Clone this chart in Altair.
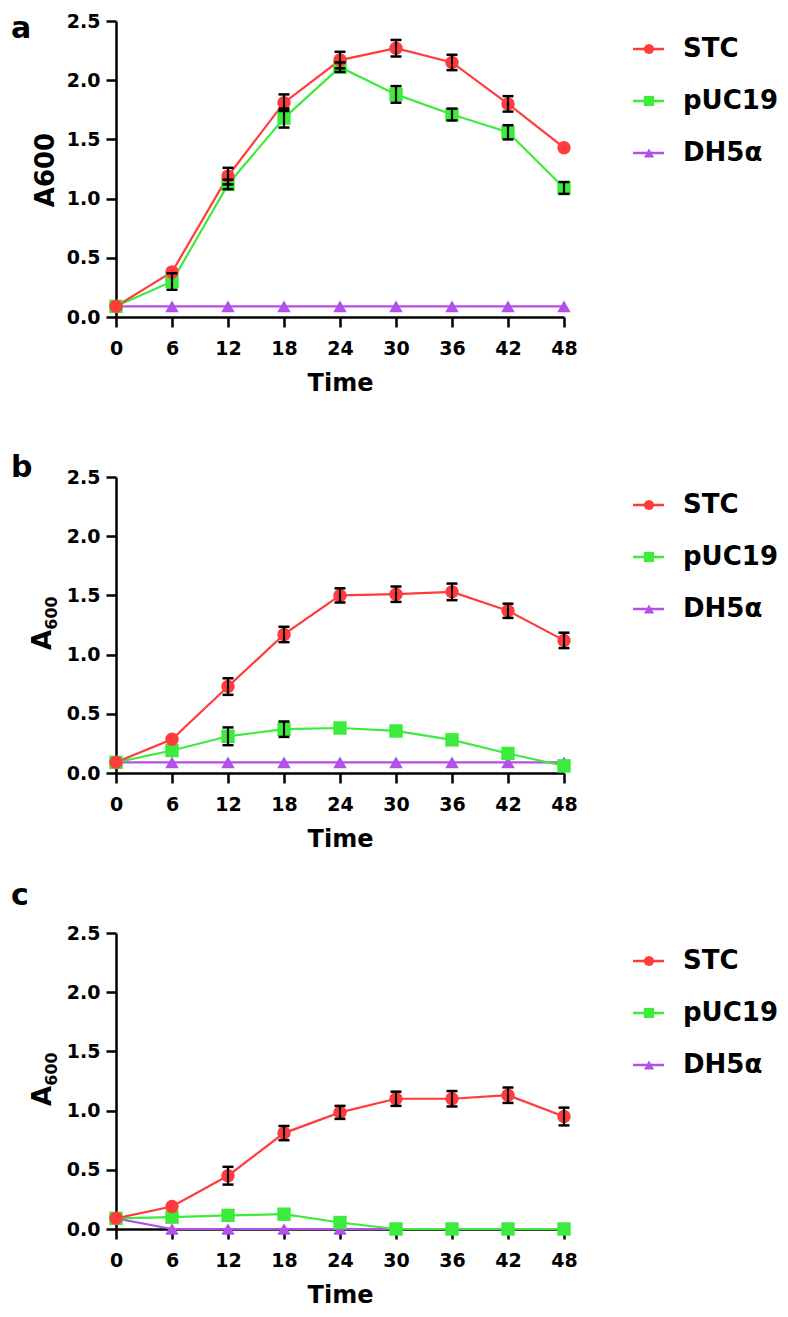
import altair as alt
import pandas as pd

# ---------------- data ----------------
times = [0, 6, 12, 18, 24, 30, 36, 42, 48]
series = ["STC", "pUC19", "DH5α"]
colors = ["#FF3B3B", "#3CEB3C", "#B44FE8"]
shapes = ["circle", "square", "triangle-up"]
y_ticks = [0.0, 0.5, 1.0, 1.5, 2.0, 2.5]
panel_labels = ["a", "b", "c"]
x_title = "Time"
y_title_a = "A600"
y_title_main = "A"
y_title_sub = "600"

# panel a
a_stc = [0.09, 0.38, 1.19, 1.81, 2.17, 2.27, 2.15, 1.80, 1.43]
a_stc_err = [0.0, 0.0, 0.07, 0.07, 0.07, 0.07, 0.065, 0.065, 0.0]
a_puc = [0.09, 0.30, 1.12, 1.68, 2.11, 1.88, 1.71, 1.56, 1.09]
a_puc_err = [0.0, 0.07, 0.04, 0.08, 0.04, 0.07, 0.05, 0.06, 0.05]
a_dh = [0.09, 0.09, 0.09, 0.09, 0.09, 0.09, 0.09, 0.09, 0.09]
a_dh_err = [0, 0, 0, 0, 0, 0, 0, 0, 0]

# panel b
b_stc = [0.09, 0.285, 0.73, 1.17, 1.50, 1.51, 1.53, 1.37, 1.12]
b_stc_err = [0.0, 0.0, 0.07, 0.065, 0.06, 0.065, 0.07, 0.06, 0.065]
b_puc = [0.09, 0.19, 0.31, 0.37, 0.38, 0.355, 0.28, 0.165, 0.06]
b_puc_err = [0.0, 0.0, 0.075, 0.065, 0.0, 0.0, 0.0, 0.0, 0.0]
b_dh = [0.09, 0.09, 0.09, 0.09, 0.09, 0.09, 0.09, 0.09, 0.09]
b_dh_err = [0, 0, 0, 0, 0, 0, 0, 0, 0]

# panel c
c_stc = [0.09, 0.19, 0.45, 0.81, 0.985, 1.10, 1.10, 1.13, 0.95]
c_stc_err = [0.0, 0.0, 0.075, 0.06, 0.055, 0.06, 0.065, 0.065, 0.075]
c_puc = [0.09, 0.10, 0.115, 0.125, 0.055, 0.0, 0.0, 0.0, 0.0]
c_puc_err = [0, 0, 0, 0, 0, 0, 0, 0, 0]
c_dh = [0.09, 0.0, 0.0, 0.0, 0.0, 0.0, 0.0, 0.0, 0.0]
c_dh_err = [0, 0, 0, 0, 0, 0, 0, 0, 0]

FONT = "DejaVu Sans"
W, H = 448, 296


def make_panel(label, label_y, data, title_mode):
    rows = []
    for name in ["DH5α", "pUC19", "STC"]:
        vals, errs = data[name]
        for t, v, e in zip(times, vals, errs):
            rows.append({"Time": t, "A600": v, "err": e, "series": name})
    df = pd.DataFrame(rows)

    xscale = alt.Scale(domain=[0, 48], nice=False, zero=False)
    yscale = alt.Scale(domain=[0, 2.5], nice=False)
    xaxis = alt.Axis(values=times, title=x_title, format="d")
    yaxis = alt.Axis(values=y_ticks, title=None, format=".1f")
    x = alt.X("Time:Q", scale=xscale, axis=xaxis)
    color = alt.Color("series:N", scale=alt.Scale(domain=series, range=colors), legend=None)
    shape = alt.Shape("series:N", scale=alt.Scale(domain=series, range=shapes), legend=None)

    base = alt.Chart(df)
    lines = base.mark_line(strokeWidth=2.2).encode(
        x=x, y=alt.Y("A600:Q", scale=yscale, axis=yaxis), color=color
    )
    points = base.mark_point(filled=True, opacity=1, size=180).encode(
        x=x, y=alt.Y("A600:Q", scale=yscale, axis=yaxis), color=color, shape=shape
    )
    err = base.transform_filter("datum.err > 0").transform_calculate(
        lo="datum.A600 - datum.err", hi="datum.A600 + datum.err"
    )
    rule = err.mark_rule(color="black", strokeWidth=2.2).encode(
        x=x, y=alt.Y("lo:Q", scale=yscale, axis=yaxis), y2="hi:Q"
    )
    cap_lo = err.mark_tick(color="black", orient="horizontal", size=11, thickness=2.5, opacity=1).encode(
        x=x, y=alt.Y("lo:Q", scale=yscale, axis=yaxis)
    )
    cap_hi = err.mark_tick(color="black", orient="horizontal", size=11, thickness=2.5, opacity=1).encode(
        x=x, y=alt.Y("hi:Q", scale=yscale, axis=yaxis)
    )
    data_layer = alt.layer(lines, points, rule, cap_lo, cap_hi)

    leg = alt.Chart(pd.DataFrame({"series": series}))
    ly = alt.Y("series:N", scale=alt.Scale(type="point", domain=series, range=[28, 132], padding=0), axis=None)
    leg_rule = leg.mark_rule(strokeWidth=2.5).encode(
        x=alt.value(517), x2=alt.value(548), y=ly, color=color
    )
    leg_pt = leg.mark_point(filled=True, opacity=1, size=105).encode(
        x=alt.value(533), y=ly, color=color, shape=shape
    )
    leg_txt = leg.mark_text(
        align="left", baseline="middle", font=FONT, fontSize=26, fontWeight="bold", color="black"
    ).encode(x=alt.value(567), y=ly, text="series:N")

    lab = alt.Chart(pd.DataFrame({"t": [label]})).mark_text(
        align="left", baseline="alphabetic", font=FONT, fontSize=30, fontWeight="bold", color="black"
    ).encode(x=alt.value(-105), y=alt.value(label_y), text="t:N")

    extras = [leg_rule, leg_pt, leg_txt, lab]
    if title_mode == "plain":
        yt = alt.Chart(pd.DataFrame({"t": [y_title_a]})).mark_text(
            align="center", baseline="alphabetic", angle=270, font=FONT, fontSize=26,
            fontWeight="bold", color="black"
        ).encode(x=alt.value(-62), y=alt.value(149), text="t:N")
        extras.append(yt)
    else:
        yt1 = alt.Chart(pd.DataFrame({"t": [y_title_main]})).mark_text(
            align="center", baseline="alphabetic", angle=270, font=FONT, fontSize=26,
            fontWeight="bold", color="black"
        ).encode(x=alt.value(-65), y=alt.value(163), text="t:N")
        yt2 = alt.Chart(pd.DataFrame({"t": [y_title_sub]})).mark_text(
            align="center", baseline="alphabetic", angle=270, font=FONT, fontSize=16,
            fontWeight="bold", color="black"
        ).encode(x=alt.value(-59), y=alt.value(136), text="t:N")
        extras += [yt1, yt2]
    leg_layer = alt.layer(*extras)

    return alt.layer(data_layer, leg_layer).resolve_scale(y="independent").properties(width=W, height=H)


pa = make_panel(panel_labels[0], 17, {"STC": (a_stc, a_stc_err), "pUC19": (a_puc, a_puc_err), "DH5α": (a_dh, a_dh_err)}, "plain")
pb = make_panel(panel_labels[1], 0, {"STC": (b_stc, b_stc_err), "pUC19": (b_puc, b_puc_err), "DH5α": (b_dh, b_dh_err)}, "sub")
pc = make_panel(panel_labels[2], -28, {"STC": (c_stc, c_stc_err), "pUC19": (c_puc, c_puc_err), "DH5α": (c_dh, c_dh_err)}, "sub")

chart = alt.vconcat(pa, pb, pc, spacing=160, bounds="flush").properties(
    padding={"top": 4, "bottom": 0, "left": 3, "right": 0}
).configure_view(stroke=None).configure_axis(
    domainColor="black", domainWidth=2.5, tickColor="black", tickWidth=2.5, tickSize=10,
    labelFont=FONT, labelFontSize=19, labelFontWeight="bold", labelColor="black",
    titleFont=FONT, titleFontSize=24, titleFontWeight="bold", titleColor="black",
    grid=False, labelFlush=False, labelOverlap=False
).configure_axisX(labelPadding=12, titlePadding=13).configure_axisY(labelPadding=6)

chart.save("out.html", embed_options={"renderer": "svg", "actions": False})
